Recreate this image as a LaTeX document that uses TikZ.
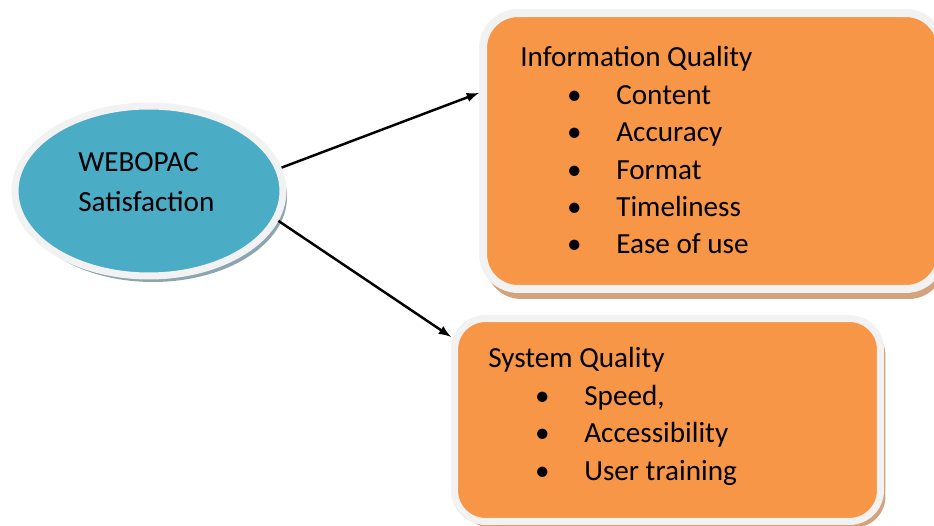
\documentclass[tikz,border=0pt]{standalone}
\usepackage{fontspec}
\setmainfont{Carlito}
\usepackage{tikz}
\usetikzlibrary{shapes.geometric,arrows,shadows}
\definecolor{webblue}{RGB}{75,172,198}
\definecolor{qualorange}{RGB}{247,150,70}
\definecolor{rimgrey}{RGB}{242,242,242}
\definecolor{blueshade}{RGB}{140,166,176}
\definecolor{orangeshade}{RGB}{210,163,125}
\tikzstyle{satisfaction} = [ellipse, minimum width=5.36cm, minimum height=3.4cm, inner sep=0pt, draw=rimgrey, line width=0.14cm, fill=webblue, drop shadow={shadow xshift=0.08cm, shadow yshift=-0.12cm, fill=blueshade, opacity=1}]
\tikzstyle{quality} = [rectangle, inner sep=0pt, draw=rimgrey, fill=qualorange]
\tikzstyle{txt} = [inner sep=0pt, anchor=base west, font=\fontsize{16.6}{20}\selectfont]
\tikzstyle{arrow} = [line width=1.4pt,->,>=latex]
\newcommand{\bitem}[1]{\makebox[0.4cm]{\textbullet}\hspace{0.64cm}#1}

\begin{document}
\begin{tikzpicture}[x=0.02cm,y=-0.02cm]
        \useasboundingbox (0,0) rectangle (934,526);
        \node (sat) [satisfaction] at (149,191) {};
        \node (info) [quality, rounded corners=0.7cm, line width=0.16cm, minimum width=9.16cm, minimum height=5.52cm,
            drop shadow={shadow xshift=0.06cm, shadow yshift=-0.2cm, fill=orangeshade, opacity=1}] at (712,151) {};
        \node (sys) [quality, rounded corners=0.62cm, line width=0.14cm, minimum width=8.52cm, minimum height=4.06cm,
            drop shadow={shadow xshift=0.1cm, shadow yshift=-0.12cm, fill=orangeshade, opacity=1}] at (667.5,420) {};

        \node (web) [txt] at (78,172) {WEBOPAC};
        \node (satis) [txt] at (78,212) {Satisfaction};

        \node (infotitle) [txt] at (520,67) {Information Quality};
        \node (content) [txt] at (564,104.5) {\bitem{Content}};
        \node (accuracy) [txt] at (564,141.8) {\bitem{Accuracy}};
        \node (format) [txt] at (564,179.1) {\bitem{Format}};
        \node (timeliness) [txt] at (564,216.4) {\bitem{Timeliness}};
        \node (ease) [txt] at (564,253.7) {\bitem{Ease of use}};

        \node (systitle) [txt] at (488,368) {System Quality};
        \node (speed) [txt] at (532,405.5) {\bitem{Speed,}};
        \node (access) [txt] at (532,443) {\bitem{Accessibility}};
        \node (training) [txt] at (532,480.5) {\bitem{User training}};

        \draw [arrow] (sat.10) -- (info.166);
        \draw [arrow] (sat.-13) -- (sys.159);
\end{tikzpicture}
\end{document}
